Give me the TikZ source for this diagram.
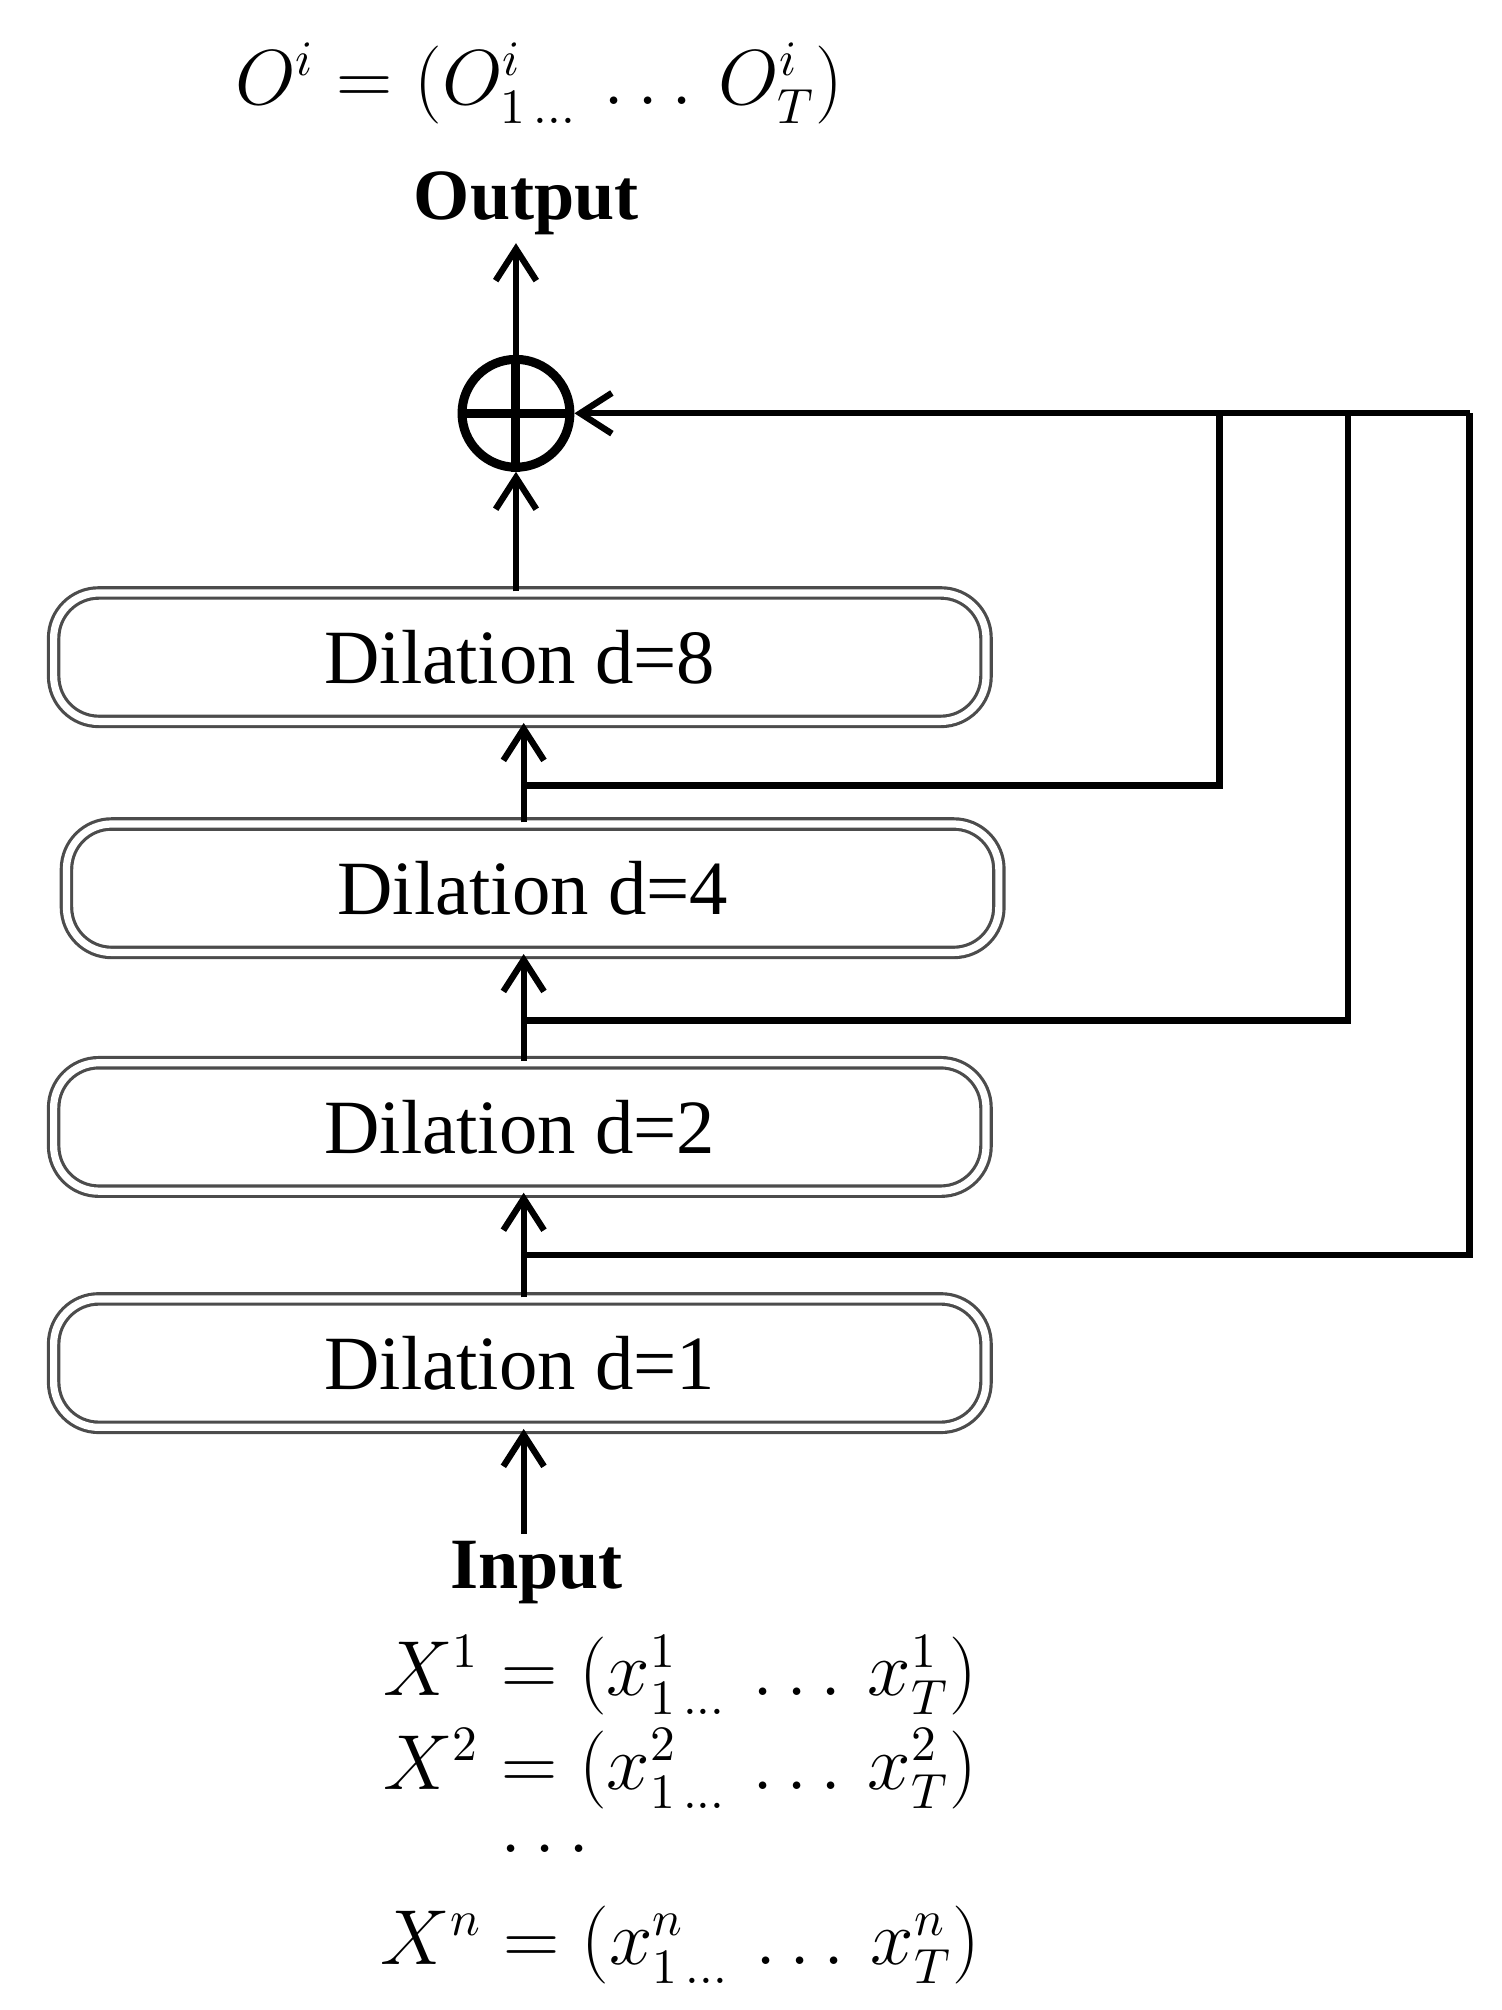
\documentclass[tikz,border=0pt]{standalone}
\usepackage{fontspec}
\setmainfont{Liberation Serif}
\usetikzlibrary{arrows.meta}
\begin{document}
\begin{tikzpicture}[x=0.01cm,y=-0.01cm,
  arr/.style={-{Straight Barb[length=7pt,width=9pt]},line width=1.4pt},
  ln/.style={line width=1.4pt},
  dbox/.style={draw=black!70,double=white,double distance=1.6pt,line width=0.7pt,rounded corners=10pt,minimum width=7.26cm,minimum height=1.0cm,font=\fontsize{17}{20}\selectfont},
  lab/.style={font=\fontsize{16}{19}\selectfont\bfseries},
  eq/.style={font=\fontsize{16}{19}\selectfont}]
\useasboundingbox (0,0) rectangle (1170,1566);
\node[eq] (out) at (420,65) {$O^i=(O^i_{1\,\ldots}\,\ldots\,O^i_T)$};
\node[lab] (outl) at (410,158) {Output};
\node[draw,circle,line width=2pt,minimum size=0.84cm,inner sep=0pt] (sum) at (402,322) {};
\draw[line width=2pt] (sum.north)--(sum.south) (sum.west)--(sum.east);
\node[dbox] (b8) at (405,512) {Dilation d=8};
\node[dbox] (b4) at (415,692) {Dilation d=4};
\node[dbox] (b2) at (405,878) {Dilation d=2};
\node[dbox] (b1) at (405,1062) {Dilation d=1};
\node[lab] (inl) at (418,1225) {Input};
\node[eq] (x1) at (530,1305) {$X^1=(x^1_{1\,\ldots}\,\ldots\,x^1_T)$};
\node[eq] (x2) at (530,1378) {$X^2=(x^2_{1\,\ldots}\,\ldots\,x^2_T)$};
\node[eq] (xd) at (425,1440) {$\ldots$};
\node[eq] (xn) at (530,1515) {$X^n=(x^n_{1\,\ldots}\,\ldots\,x^n_T)$};
\draw[arr] (sum.north) -- ++(0,-87);
\draw[arr] (b8.north -| sum) -- (sum.south);
\draw[arr] (408,1195) -- (b1.south -| 408,0);
\draw[arr] (b1.north -| 408,0) -- (b2.south -| 408,0);
\draw[arr] (b2.north -| 408,0) -- (b4.south -| 408,0);
\draw[arr] (b4.north -| 408,0) -- (b8.south -| 408,0);
\coordinate (j8) at (408,612);
\coordinate (j4) at (408,795);
\coordinate (j2) at (408,978);
\draw[ln] (j8) -| (950,322);
\draw[ln] (j4) -| (1050,322);
\draw[ln] (j2) -| (1145,322);
\draw[arr] (1145,322) -- (sum.east);
\end{tikzpicture}
\end{document}
